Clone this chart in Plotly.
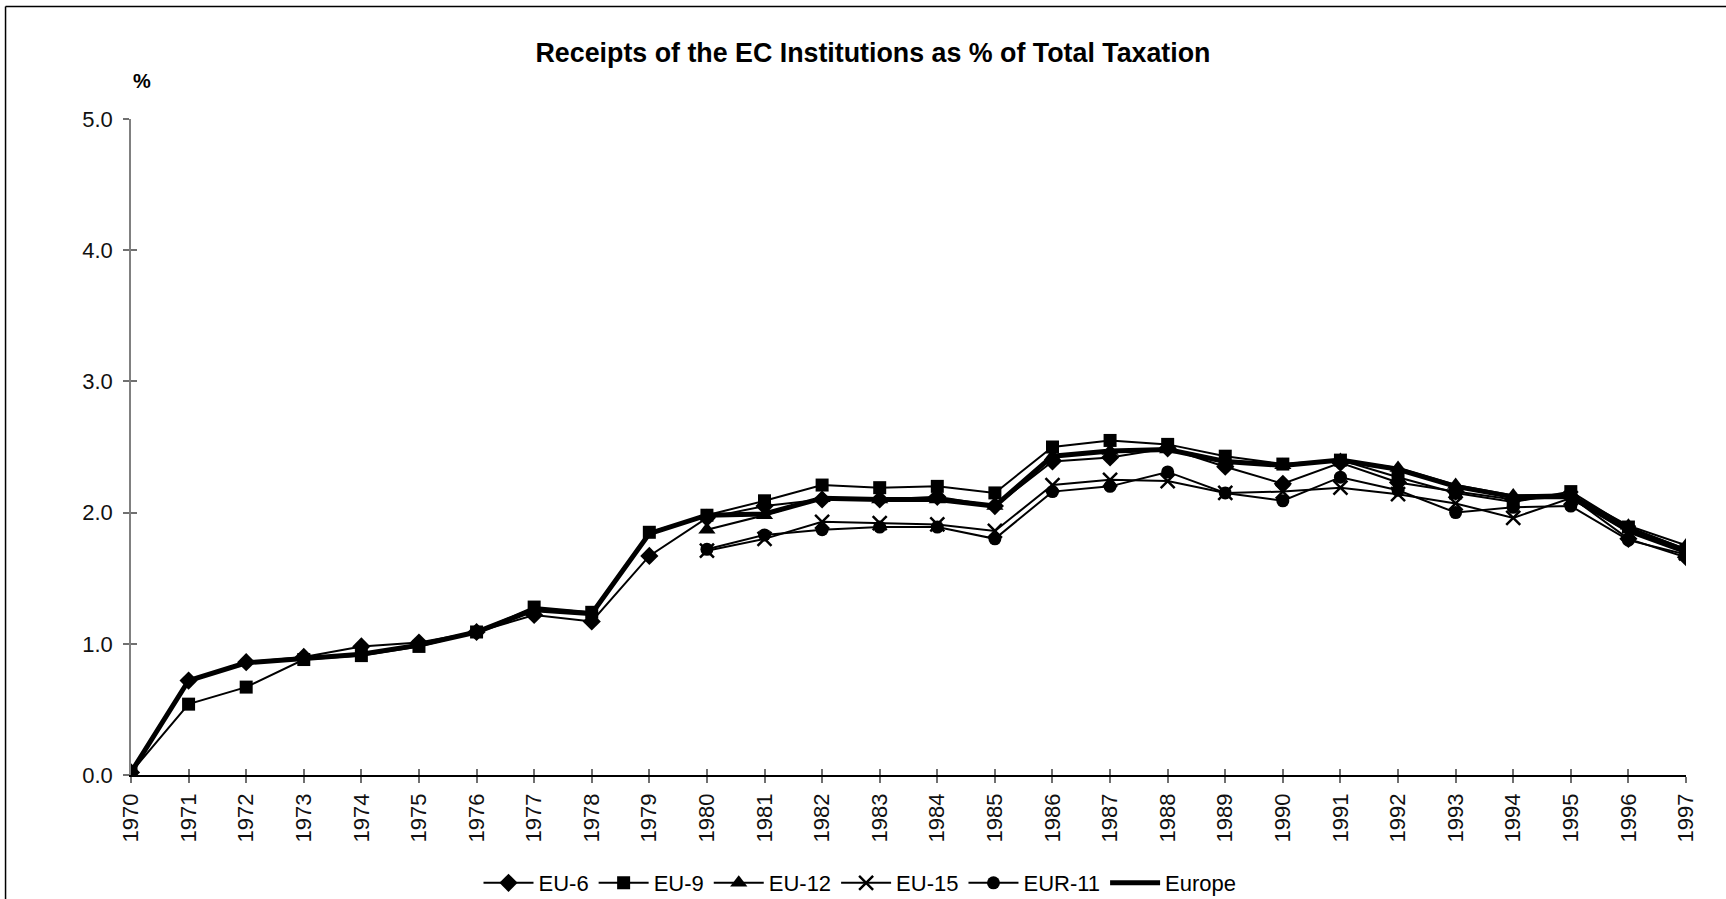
import plotly.graph_objects as go

years = list(range(1970, 1998))

eu6 = [0.02, 0.72, 0.86, 0.90, 0.98, 1.01, 1.09, 1.22, 1.17, 1.67,
       1.96, 2.05, 2.10, 2.10, 2.12, 2.05, 2.39, 2.42, 2.49, 2.35,
       2.22, 2.38, 2.23, 2.16, 2.10, 2.12, 1.80, 1.66]
eu9 = [0.02, 0.54, 0.67, 0.88, 0.91, 0.98, 1.09, 1.28, 1.24, 1.85,
       1.98, 2.09, 2.21, 2.19, 2.20, 2.15, 2.50, 2.55, 2.52, 2.43,
       2.37, 2.40, 2.27, 2.15, 2.08, 2.16, 1.89, 1.72]
eu12 = [None] * 10 + [1.87, 1.98, 2.11, 2.10, 2.10, 2.05, 2.43, 2.47, 2.48, 2.39,
                      2.36, 2.40, 2.34, 2.21, 2.13, 2.14, 1.90, 1.75]
eu15 = [None] * 10 + [1.71, 1.80, 1.93, 1.92, 1.91, 1.86, 2.21, 2.25, 2.24, 2.15,
                      2.16, 2.19, 2.14, 2.07, 1.96, 2.11, 1.85, 1.69]
eur11 = [None] * 10 + [1.72, 1.83, 1.87, 1.89, 1.89, 1.80, 2.16, 2.20, 2.31, 2.15,
                       2.09, 2.27, 2.17, 2.00, 2.04, 2.05, 1.79, 1.68]
europe = [0.02, 0.72, 0.855, 0.89, 0.92, 0.99, 1.09, 1.26, 1.23, 1.84,
          1.98, 1.99, 2.11, 2.10, 2.10, 2.05, 2.43, 2.47, 2.48, 2.39,
          2.36, 2.40, 2.33, 2.20, 2.12, 2.12, 1.87, 1.71]

y_ticks = [0, 1, 2, 3, 4, 5]
title_text = "Receipts of the EC Institutions as % of Total Taxation"
FONT = "Liberation Sans, Arial, sans-serif"

fig = go.Figure()

series = [
    ("EU-6", eu6, "diamond", 14),
    ("EU-9", eu9, "square", 13),
    ("EU-12", eu12, "triangle-up", 15),
    ("EU-15", eu15, "x-thin", 14),
    ("EUR-11", eur11, "circle", 13),
]
for name, vals, sym, size in series:
    fig.add_trace(go.Scatter(
        x=years, y=vals, name=name, mode="lines+markers",
        line=dict(color="black", width=2),
        marker=dict(symbol=sym, size=size, color="black",
                    line=dict(color="black", width=2.5 if sym == "x-thin" else 0)),
        connectgaps=False,
    ))

fig.add_trace(go.Scatter(
    x=years, y=europe, name="Europe", mode="lines",
    line=dict(color="black", width=5),
))

# helper invisible trace for the overlay axes (crossing tick marks)
fig.add_trace(go.Scatter(x=[years[0]], y=[0], xaxis="x2", yaxis="y2",
                         mode="markers", marker=dict(opacity=0),
                         showlegend=False, hoverinfo="skip"))

L, R, T, B = 130.5, 40, 118.5, 124
W, H = 1726, 899
pw = W - L - R
ph = H - T - B

fig.update_layout(
    width=W, height=H,
    margin=dict(l=L, r=R, t=T, b=B, autoexpand=False),
    paper_bgcolor="white", plot_bgcolor="white",
    font=dict(family=FONT, color="black", size=22),
    title=dict(text="<b>" + title_text + "</b>", x=873 / W, xref="container",
               xanchor="center", y=1 - 53 / H, yref="container", yanchor="middle",
               font=dict(size=26.8, family=FONT, color="black")),
    showlegend=True,
    legend=dict(orientation="h", xref="container", yref="container",
                x=860 / W, xanchor="center", y=(H - 883) / H, yanchor="middle",
                font=dict(size=22, family=FONT), itemwidth=50,
                bgcolor="rgba(0,0,0,0)", traceorder="normal"),
    xaxis=dict(range=[years[0], years[-1]], tickvals=years,
               ticktext=[str(y) for y in years], tickangle=-90,
               showgrid=False, zeroline=False, showline=True,
               linecolor="black", linewidth=1.5,
               ticks="outside", ticklen=6, tickcolor="#707070", tickwidth=1.5,
               ticklabelstandoff=2,
               tickfont=dict(size=22, color="#111111")),
    xaxis2=dict(range=[years[0], years[-1]], overlaying="x", tickvals=years,
                showticklabels=False, showgrid=False, zeroline=False,
                showline=False, ticks="inside", ticklen=6,
                tickcolor="#707070", tickwidth=1.5),
    yaxis=dict(range=[0, 5], tickvals=y_ticks, tickformat=".1f",
               showgrid=False, zeroline=False, showline=True,
               linecolor="#808080", linewidth=1.5,
               ticks="outside", ticklen=6, tickcolor="#707070", tickwidth=1.5,
               ticklabelstandoff=6,
               tickfont=dict(size=22, color="#111111")),
    yaxis2=dict(range=[0, 5], overlaying="y", tickvals=y_ticks,
                showticklabels=False, showgrid=False, zeroline=False,
                showline=False, ticks="inside", ticklen=6,
                tickcolor="#707070", tickwidth=1.5),
    annotations=[dict(text="<b>%</b>", xref="paper", yref="paper",
                      x=(142 - L) / pw, y=(H - B - 80) / ph,
                      xanchor="center", yanchor="middle", showarrow=False,
                      font=dict(size=20, family=FONT, color="black"))],
    shapes=[
        dict(type="line", xref="paper", yref="paper",
             x0=(5 - L) / pw, x1=(W + 5 - L) / pw,
             y0=(H - B - 6) / ph, y1=(H - B - 6) / ph,
             line=dict(color="black", width=1.5)),
        dict(type="line", xref="paper", yref="paper",
             x0=(5 - L) / pw, x1=(5 - L) / pw,
             y0=(H - B - 6) / ph, y1=(-B - 5) / ph,
             line=dict(color="black", width=1.5)),
    ],
)

fig.write_html("out.html", config={"displayModeBar": False},
               post_script="document.body.style.margin='0';")
